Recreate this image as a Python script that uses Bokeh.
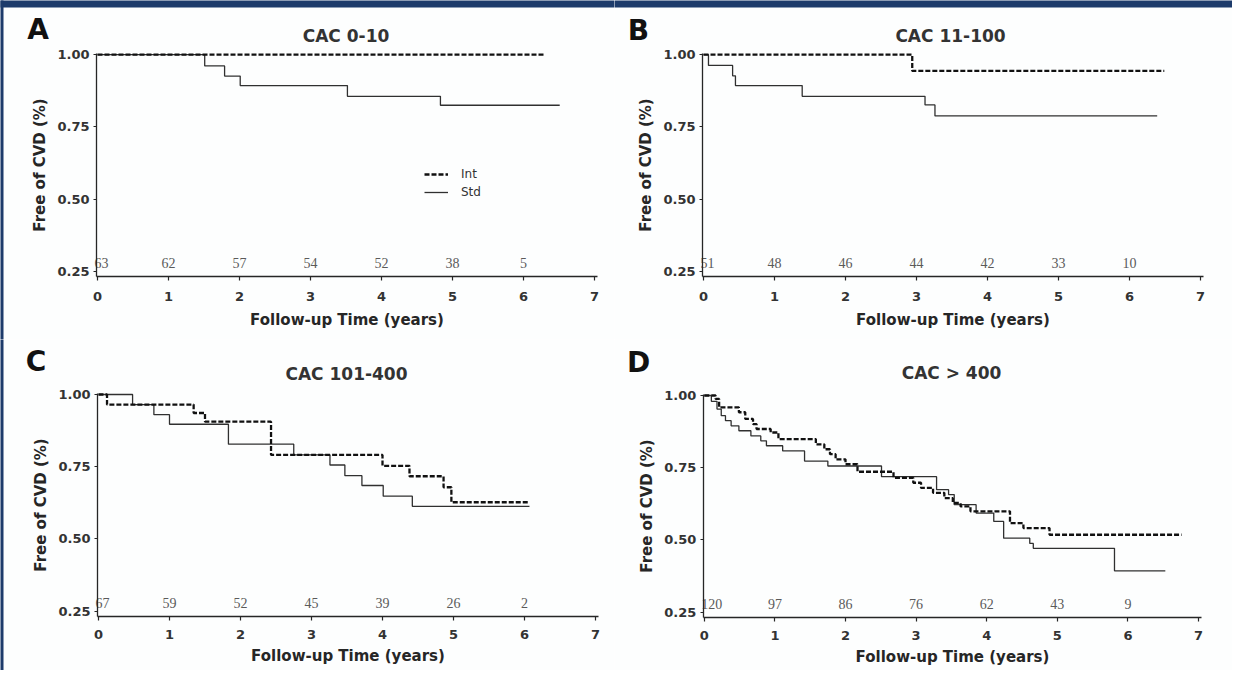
from bokeh.plotting import figure
from bokeh.layouts import gridplot
from bokeh.models import (Label, Legend, LegendItem, FixedTicker, NumeralTickFormatter,
                          Range1d, BoxAnnotation)
from bokeh.embed import file_html
from bokeh.resources import INLINE
from bokeh.core.properties import value

# ---------------- data ----------------
year_ticks = [0, 1, 2, 3, 4, 5, 6, 7]
surv_ticks = [0.25, 0.50, 0.75, 1.00]
risk_times = [0, 1, 2, 3, 4, 5, 6]
panel_letters = ["A", "B", "C", "D"]
panel_titles = ["CAC 0-10", "CAC 11-100", "CAC 101-400", "CAC > 400"]
group_labels = ["Int", "Std"]

# Panel A: CAC 0-10
a_int_t = [0.0, 6.29]
a_int_s = [1.0, 1.0]
a_std_t = [0.0, 1.51, 1.79, 2.01, 3.52, 4.83, 6.51]
a_std_s = [1.0, 0.961, 0.926, 0.893, 0.856, 0.825, 0.825]
a_risk = [63, 62, 57, 54, 52, 38, 5]

# Panel B: CAC 11-100
b_int_t = [0.0, 2.94, 6.49]
b_int_s = [1.0, 0.944, 0.944]
b_std_t = [0.0, 0.07, 0.41, 0.45, 1.39, 3.12, 3.26, 6.39]
b_std_s = [1.0, 0.963, 0.927, 0.893, 0.856, 0.826, 0.788, 0.788]
b_risk = [51, 48, 46, 44, 42, 33, 10]

# Panel C: CAC 101-400
c_int_t = [0.0, 0.12, 1.34, 1.50, 2.43, 4.00, 4.38, 4.86, 4.97, 6.05]
c_int_s = [1.0, 0.965, 0.936, 0.906, 0.791, 0.753, 0.717, 0.679, 0.627, 0.627]
c_std_t = [0.0, 0.48, 0.78, 1.00, 1.83, 2.75, 3.26, 3.47, 3.71, 4.01, 4.42, 6.07]
c_std_s = [1.0, 0.965, 0.930, 0.897, 0.828, 0.791, 0.756, 0.719, 0.685, 0.648, 0.613, 0.613]
c_risk = [67, 59, 52, 45, 39, 26, 2]

# Panel D: CAC > 400
d_int_t = [0.0, 0.16, 0.21, 0.49, 0.58, 0.69, 0.74, 0.94, 1.05, 1.58, 1.70, 1.78, 1.86,
           2.00, 2.17, 2.68, 2.96, 3.07, 3.24, 3.40, 3.52, 3.63, 3.77, 4.33, 4.52, 4.89, 6.76]
d_int_s = [1.0, 0.988, 0.959, 0.942, 0.919, 0.901, 0.884, 0.872, 0.849, 0.831, 0.814, 0.797, 0.779,
           0.762, 0.736, 0.715, 0.698, 0.680, 0.663, 0.645, 0.628, 0.616, 0.599, 0.558, 0.541, 0.518, 0.518]
d_std_t = [0.0, 0.10, 0.18, 0.24, 0.30, 0.38, 0.49, 0.66, 0.80, 0.88, 1.11, 1.42, 1.75,
           2.51, 3.29, 3.46, 3.54, 3.85, 4.10, 4.24, 4.61, 4.66, 5.81, 6.53]
d_std_s = [1.0, 0.980, 0.953, 0.930, 0.913, 0.895, 0.878, 0.860, 0.843, 0.826, 0.808, 0.773, 0.756,
           0.719, 0.674, 0.657, 0.622, 0.593, 0.564, 0.506, 0.488, 0.471, 0.393, 0.393]
d_risk = [120, 97, 86, 76, 62, 43, 9]

# ---------------- style / layout ----------------
BG = "#fdfefe"
AX = "#262626"
FRAME_BLUE = "#1d3b6b"
SANS = "DejaVu Sans"
SERIF = "Liberation Serif"
PPU = 288.9          # pixels per survival unit
X_AXIS_AT = 0.231    # survival value where the x axis sits
Y_AXIS_AT = -0.014   # year where the y axis sits
X_END = 7.042
Y_TOP = 1.004


def make_panel(idx, int_t, int_s, std_t, std_s, risk, ox, oy, w, h, x0px, ppy, y1px,
               letter_px, title_px, tick_sd, lab_sd, top_band=False, left_band=False,
               legend=False):
    # pixel -> data helpers for this panel
    def dx(px):
        return (px - x0px) / ppy

    def dy(py):
        return 1.0 - (py - y1px) / PPU

    p = figure(width=w, height=h, output_backend="svg", toolbar_location=None,
               x_range=Range1d(dx(ox), dx(ox + w)), y_range=Range1d(dy(oy + h), dy(oy)),
               min_border=0)
    p.background_fill_color = BG
    p.border_fill_color = BG
    p.outline_line_color = None
    p.xgrid.visible = False
    p.ygrid.visible = False

    for ax in (p.xaxis[0], p.yaxis[0]):
        ax.axis_line_color = AX
        ax.axis_line_width = 1.3
        ax.major_tick_line_color = AX
        ax.major_tick_line_width = 1.2
        ax.minor_tick_line_color = None
        ax.major_tick_in = 0
        ax.major_label_text_font = SANS
        ax.major_label_text_font_style = "bold"
        ax.major_label_text_font_size = "13px"
        ax.major_label_text_color = "#333333"
        ax.axis_label_text_font = SANS
        ax.axis_label_text_font_style = "bold"
        ax.axis_label_text_font_size = "15px"
        ax.axis_label_text_color = "#262626"

    p.xaxis.fixed_location = X_AXIS_AT
    p.xaxis.bounds = (Y_AXIS_AT, X_END)
    p.xaxis.ticker = FixedTicker(ticks=year_ticks)
    p.xaxis.major_tick_out = 4
    p.xaxis.major_label_standoff = tick_sd
    p.xaxis.axis_label = "Follow-up Time (years)"
    p.xaxis.axis_label_standoff = lab_sd

    p.yaxis.fixed_location = Y_AXIS_AT
    p.yaxis.bounds = (X_AXIS_AT, Y_TOP)
    p.yaxis.ticker = FixedTicker(ticks=surv_ticks)
    p.yaxis.formatter = NumeralTickFormatter(format="0.00")
    p.yaxis.major_tick_out = 3
    p.yaxis.major_label_standoff = 4
    p.yaxis.axis_label = "Free of CVD (%)"
    p.yaxis.axis_label_standoff = 5

    r_s = p.step(std_t, std_s, mode="after", line_color="#303030", line_width=1.3)
    r_i = p.step(int_t, int_s, mode="after", line_color="#111111", line_width=2.3,
                 line_dash="5 2")

    # numbers at risk
    risk_y = X_AXIS_AT + 14.0 / PPU
    p.text(x=risk_times[:1], y=[risk_y], text=[str(risk[0])], text_align="left",
           text_baseline="middle", x_offset=-3, text_font=value(SERIF),
           text_font_size="14px", text_color="#5a5a5a")
    p.text(x=risk_times[1:], y=[risk_y] * (len(risk_times) - 1),
           text=[str(v) for v in risk[1:]],
           text_align="center", text_baseline="middle", text_font=value(SERIF),
           text_font_size="14px", text_color="#5a5a5a")

    p.add_layout(Label(x=dx(letter_px[0]), y=dy(letter_px[1]), text=panel_letters[idx],
                       text_align="center", text_baseline="middle", text_font=SANS,
                       text_font_style="bold", text_font_size="28px", text_color="#111111"))
    p.add_layout(Label(x=dx(title_px[0]), y=dy(title_px[1]), text=panel_titles[idx],
                       text_align="center", text_baseline="middle", text_font=SANS,
                       text_font_style="bold", text_font_size="17px", text_color="#333333"))

    if top_band:
        p.add_layout(BoxAnnotation(left=dx(ox - 6), right=dx(ox + w + 6), bottom=dy(7),
                                   top=dy(oy - 6),
                                   fill_color=FRAME_BLUE, fill_alpha=1.0, line_alpha=0))
    if left_band:
        p.add_layout(BoxAnnotation(left=dx(ox - 6), right=dx(3), bottom=dy(oy + h + 6),
                                   top=dy(oy - 6),
                                   fill_color=FRAME_BLUE, fill_alpha=1.0, line_alpha=0))

    if legend:
        lg = Legend(items=[LegendItem(label=group_labels[0], renderers=[r_i]),
                           LegendItem(label=group_labels[1], renderers=[r_s])],
                    location=(424 - ox, (oy + h) - 199.7), padding=0, spacing=2, margin=0,
                    glyph_width=24, glyph_height=16, label_height=16, label_standoff=13,
                    label_text_font=SANS, label_text_font_size="12px",
                    label_text_color="#333333",
                    background_fill_alpha=0, border_line_alpha=0)
        p.add_layout(lg)
    return p


pA = make_panel(0, a_int_t, a_int_s, a_std_t, a_std_s, a_risk,
                0, 0, 614, 339, 97, 71.0, 54.2, (37.5, 29), (345.5, 35), 11, 7,
                top_band=True, left_band=True, legend=True)
pB = make_panel(1, b_int_t, b_int_s, b_std_t, b_std_s, b_risk,
                614, 0, 618, 339, 703, 71.0, 54.2, (638, 30), (950, 35), 11, 7,
                top_band=True)
pC = make_panel(2, c_int_t, c_int_s, c_std_t, c_std_s, c_risk,
                0, 339, 614, 331, 98, 71.0, 394.0, (35.5, 361), (346, 373), 9, 5,
                left_band=True)
pD = make_panel(3, d_int_t, d_int_s, d_std_t, d_std_s, d_risk,
                614, 339, 618, 331, 703.8, 70.6, 395.0, (638, 362), (951, 372), 9, 5)

grid = gridplot([[pA, pB], [pC, pD]], toolbar_location=None)

open("out.html", "w").write(file_html(grid, INLINE))
